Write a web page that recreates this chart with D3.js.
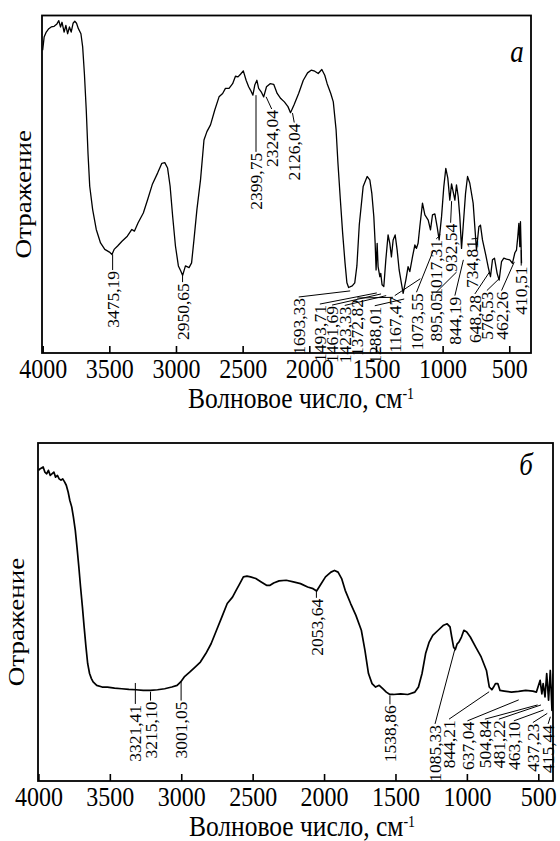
<!DOCTYPE html>
<html>
<head>
<meta charset="utf-8">
<script src="https://cdn.jsdelivr.net/npm/d3@7"></script>
<style>
body { margin: 0; background: #fff; }
svg { display: block; font-family: "Liberation Serif", "Times New Roman", serif; }
</style>
</head>
<body>
<script>
// axis ticks, shared by both panels
var xTicks = [4000, 3500, 3000, 2500, 2000, 1500, 1000, 500];

// panel a: spectrum (wavenumber, reflectance in % of frame height)
var wnA = [4000,3989,3973,3954,3936,3914,3893,3879,3866,3855,3839,3826,3813,3799,3786,3772,3759,3746,3732,3713,
  3700,3687,3673,3660,3647,3625,3598,3566,3534,3499,3480,3464,3438,3405,3365,3331,3312,3285,3245,3213,
  3178,3138,3106,3084,3063,3044,3025,3004,2982,2964,2950,2929,2902,2883,2865,2843,2816,2790,2768,2741,
  2709,2677,2650,2629,2602,2575,2554,2535,2516,2495,2474,2455,2441,2423,2409,2393,2380,2361,2342,2321,
  2294,2267,2241,2214,2187,2160,2141,2115,2080,2045,2013,1986,1959,1933,1906,1884,1866,1839,1820,1799,
  1785,1767,1750,1732,1718,1705,1678,1659,1643,1625,1596,1566,1546,1531,1516,1506,1499,1491,1484,1471,
  1464,1454,1441,1426,1409,1396,1384,1371,1356,1341,1326,1309,1296,1276,1259,1246,1226,1208,1196,1184,
  1171,1151,1133,1108,1091,1076,1058,1041,1026,1008,991,976,961,946,933,921,908,896,883,871,
  858,846,828,813,796,771,746,728,716,701,676,656,641,626,611,591,576,558,541,521,
  496,476,458,446,436,428,421,416,408];
var reflA = [89.7,93.6,95.1,96.1,96.6,96.8,97.5,98.5,96.6,98.0,95.1,97.1,94.6,96.6,95.1,97.7,98.3,97.7,96.1,94.6,
  90.7,82.8,72.0,59.2,49.4,42.5,36.6,32.6,30.7,29.9,29.2,30.7,31.7,33.1,34.6,36.6,36.1,38.5,41.5,45.4,
  49.9,53.3,56.2,56.4,54.8,49.4,40.5,31.7,25.8,24.3,23.0,25.8,25.3,26.7,33.6,42.5,51.3,63.1,65.6,67.6,
  72.0,75.9,76.9,78.4,78.4,79.8,82.0,81.8,82.6,83.6,80.8,78.9,77.9,76.4,79.4,80.8,78.4,77.4,75.9,78.9,
  79.8,79.6,76.9,75.4,74.4,73.0,71.2,73.5,76.9,80.8,83.0,83.8,83.5,82.8,84.0,82.3,79.8,76.9,74.4,66.1,
  56.2,45.4,35.6,26.7,20.8,19.4,19.9,20.8,25.8,38.0,49.3,52.3,51.3,47.3,40.4,32.5,24.6,32.5,25.6,22.6,
  23.6,20.2,19.7,27.6,35.0,32.5,28.5,33.5,35.0,30.5,24.6,20.6,17.7,21.6,25.6,24.1,28.5,32.0,31.0,32.5,
  37.4,44.4,40.9,39.4,36.5,40.9,41.2,37.4,33.5,40.4,49.3,54.7,51.8,45.3,50.1,47.8,45.3,49.8,46.3,40.4,
  31.0,37.4,47.3,52.3,50.3,44.4,30.5,37.4,37.9,33.5,29.0,25.1,22.6,27.6,28.1,23.6,21.6,27.1,28.1,27.8,
  27.6,26.6,29.7,30.5,34.5,38.4,31.5,38.9,26.6];

// panel a: marked bands, where each label column sits (wavenumber), its upper end and the leader tip (%)
var peaksA = [3475.19, 2950.65, 2399.75, 2324.04, 2126.04, 1693.33, 1493.71, 1461.69, 1423.33, 1372.82, 1288.01,
  1167.47, 1073.55, 1017.31, 932.54, 895.05, 844.19, 734.81, 648.28, 576.53, 462.26, 410.51];
var labelAtA = [3475.19, 2950.65, 2399.75, 2282, 2113, 2079, 1921, 1829, 1734, 1641, 1509,
  1359, 1196, 1048, 940, 1048, 908, 783, 758, 668, 558, 410.51];
var labelTopA = [24.3, 20.7, 59.3, 72, 68, 16.3, 14.2, 13.9, 13.8, 16, 13.7,
  16.7, 17.7, 33.5, 38.3, 17.7, 16.7, 33.5, 17.2, 18.2, 18.2, 25.6];
var tipA = [29.2, 23, 76.4, 75.9, 71.1, 18.4, 17.8, 17.5, 17, 16.5, 16,
  22, 30, 35, 45, 24, 27.6, 34, 24, 22, 27, 30.5];

// panel b
var wnB = [4000,3987,3967,3955,3942,3930,3917,3905,3892,3880,3867,3855,3842,3830,3817,3805,3792,3780,3767,3755,
  3742,3730,3717,3705,3692,3680,3667,3655,3642,3629,3617,3592,3554,3517,3467,3417,3367,3317,3266,3216,
  3166,3116,3066,3029,3004,2979,2941,2903,2866,2828,2791,2753,2716,2678,2641,2616,2590,2565,2540,2515,
  2478,2440,2403,2378,2353,2315,2265,2215,2165,2115,2077,2052,2027,1990,1952,1927,1902,1877,1852,1814,
  1777,1739,1714,1689,1664,1639,1614,1589,1564,1539,1514,1464,1414,1364,1339,1314,1289,1264,1239,1201,
  1163,1138,1118,1106,1093,1081,1068,1056,1038,1021,1001,976,938,900,863,843,825,813,800,783,
  768,738,688,638,588,538,513,487,475,466,453,441,428,416,404,396];
var reflB = [91.9,92.4,92.9,91.4,90.9,91.9,90.4,90.9,91.4,89.9,90.4,89.4,89.0,89.4,88.5,87.5,85.5,83.0,81.1,78.1,
  74.2,69.2,63.3,57.4,51.5,45.6,39.6,34.7,31.8,30.3,29.3,28.3,27.8,27.8,27.5,27.3,27.1,27.0,26.8,26.8,
  27.0,27.3,27.8,28.3,29.3,30.8,32.2,33.7,35.2,37.7,40.6,44.6,48.5,52.5,54.4,56.4,58.4,60.4,60.6,60.4,
  59.9,58.9,57.9,57.9,58.6,59.2,59.4,58.9,58.4,57.4,56.9,56.2,57.9,60.4,61.8,62.3,61.8,59.9,56.4,52.5,
  49.0,44.6,38.7,31.8,28.8,27.8,28.3,27.3,26.3,25.6,25.6,25.8,25.6,26.3,27.8,31.8,37.7,41.1,43.1,44.6,
  46.1,46.5,45.6,42.6,39.6,38.9,40.6,41.1,42.6,44.6,44.1,42.6,39.6,36.7,32.7,27.8,27.0,27.8,28.8,28.8,
  26.8,26.6,26.3,26.5,26.8,26.6,26.3,29.8,25.8,28.8,24.9,31.8,23.9,32.7,20.9,31.8];

var peaksB = [3321.41, 3215.10, 3001.05, 2053.64, 1538.86, 1085.33, 844.21, 637.04, 504.84, 481.22, 463.10, 437.23, 415.44];
var labelAtB = [3321.41, 3215.10, 3001.05, 2053.64, 1538.86, 1223, 1125, 996, 874, 776, 671, 538, 431];
var labelTopB = [22.5, 23.5, 23.5, 53.9, 22.4, 16.6, 18, 17.5, 18, 18, 17.5, 17, 16.6];
var tipB = [29, 26.4, 29.4, 56.4, 25.3, 38.8, 26.4, 24, 22.5, 22.5, 21, 20, 19];

// the printed figure is a little taller than wide, so the big text is stretched
var stretch = 1.15;

var svg = d3.select("body").append("svg")
  .attr("width", 560)
  .attr("height", 841);

function fmt(v) {
  return v.toFixed(2).replace(".", ",");
}

function drawPanel(p) {
  var x = d3.scaleLinear().domain(p.domain).range([p.left, p.right]);
  var y = d3.scaleLinear().domain([0, 100]).range([p.bottom, p.top]);
  var g = svg.append("g");

  var clipId = "clip" + p.id;
  g.append("clipPath").attr("id", clipId)
    .append("rect")
    .attr("x", p.left).attr("y", p.top)
    .attr("width", p.right - p.left).attr("height", p.bottom - p.top);

  var pts = p.wn.map(function(w, i) { return [w, p.refl[i]]; });
  g.append("path")
    .datum(pts)
    .attr("clip-path", "url(#" + clipId + ")")
    .attr("fill", "none")
    .attr("stroke", "#000")
    .attr("stroke-width", p.lineWidth)
    .attr("stroke-linejoin", "round")
    .attr("d", d3.line().x(function(d) { return x(d[0]); }).y(function(d) { return y(d[1]); }));

  // leaders and band labels
  var ann = p.peaks.map(function(v, i) {
    return { v: v, at: p.labelAt[i], top: p.labelTop[i], tip: p.tip[i] };
  });
  g.selectAll(".leader").data(ann).enter().append("line")
    .attr("class", "leader")
    .attr("x1", function(d) { return x(d.at); })
    .attr("y1", function(d) { return y(d.top) - 1; })
    .attr("x2", function(d) { return x(d.v); })
    .attr("y2", function(d) { return y(d.tip); })
    .attr("stroke", "#000")
    .attr("stroke-width", 1);
  g.selectAll(".band").data(ann).enter().append("text")
    .attr("class", "band")
    .attr("transform", function(d) { return "translate(" + x(d.at) + "," + y(d.top) + ") rotate(-90)"; })
    .attr("text-anchor", "end")
    .attr("dy", "0.35em")
    .attr("font-size", 17.5)
    .text(function(d) { return fmt(d.v); });

  // axis: inward ticks
  var ax = g.append("g")
    .attr("transform", "translate(0," + p.bottom + ")")
    .call(d3.axisBottom(x).tickValues(xTicks).tickSize(-7).tickPadding(5).tickFormat(d3.format("d")));
  ax.select(".domain").remove();
  ax.selectAll(".tick line").attr("stroke", "#000").attr("stroke-width", 1.6);
  ax.selectAll(".tick text")
    .attr("fill", "#000")
    .attr("font-family", "Liberation Serif")
    .attr("font-size", 24)
    .attr("transform", "scale(1," + stretch + ")");

  g.append("rect")
    .attr("x", p.left).attr("y", p.top)
    .attr("width", p.right - p.left).attr("height", p.bottom - p.top)
    .attr("fill", "none")
    .attr("stroke", "#000")
    .attr("stroke-width", 1.8);

  var title = g.append("text")
    .attr("transform", "translate(" + p.titleX + "," + (p.bottom + 55) + ") scale(1," + stretch + ")")
    .attr("text-anchor", "middle")
    .attr("font-size", 25.5);
  title.append("tspan").text("Волновое число, см");
  title.append("tspan").attr("dy", "-0.55em").attr("font-size", 14).text("-1");

  g.append("text")
    .attr("transform", "translate(" + p.yLabelX + "," + ((p.top + p.bottom) / 2 + 10) + ") scale(1," + stretch + ") rotate(-90)")
    .attr("text-anchor", "middle")
    .attr("dy", "0.3em")
    .attr("font-size", 23.5)
    .text("Отражение");

  g.append("text")
    .attr("transform", "translate(" + p.letterX + "," + p.letterY + ") scale(1," + stretch + ")")
    .attr("text-anchor", "middle")
    .attr("font-style", "italic")
    .attr("font-size", 27)
    .text(p.letter);
}

drawPanel({ id: "a", left: 42, right: 531, top: 15.5, bottom: 353, domain: [4005, 337],
  wn: wnA, refl: reflA, peaks: peaksA, labelAt: labelAtA, labelTop: labelTopA, tip: tipA,
  lineWidth: 1.3, titleX: 301, yLabelX: 24, letter: "а", letterX: 517, letterY: 62 });

drawPanel({ id: "b", left: 38, right: 553, top: 443, bottom: 781, domain: [4003, 397],
  wn: wnB, refl: reflB, peaks: peaksB, labelAt: labelAtB, labelTop: labelTopB, tip: tipB,
  lineWidth: 1.7, titleX: 302, yLabelX: 17, letter: "б", letterX: 526, letterY: 475 });
</script>
</body>
</html>
